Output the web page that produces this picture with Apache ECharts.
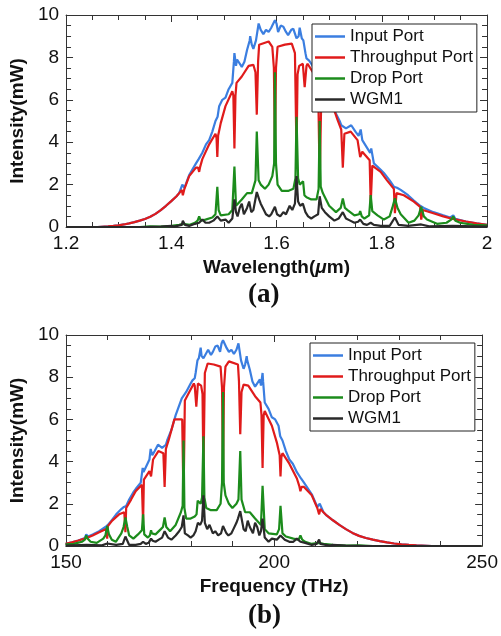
<!DOCTYPE html>
<html>
<head>
<meta charset="utf-8">
<script src="https://cdn.jsdelivr.net/npm/echarts@6/dist/echarts.min.js"></script>
<style>
  html, body { margin: 0; padding: 0; background: #fff; }
  #chart { width: 501px; height: 636px; }
</style>
</head>
<body>
<div id="chart"></div>
<script>
(function () {
    'use strict';

    // wavelength (um), intensity (mW)
    var inputPort = [
        [1.200,0],[1.260,0],[1.280,0.03],[1.290,0.05],[1.300,0.08],[1.310,0.12],[1.320,0.17],[1.330,0.23],
        [1.340,0.3],[1.350,0.38],[1.360,0.48],[1.370,0.62],[1.380,0.8],[1.390,1.0],[1.400,1.22],[1.410,1.45],
        [1.415,1.6],[1.421,2.0],[1.425,1.85],[1.434,2.45],[1.447,3.0],[1.452,3.2],[1.459,3.5],
        [1.466,3.9],[1.472,4.1],[1.478,4.5],[1.484,5.0],[1.488,5.2],[1.491,5.7],[1.497,6.0],[1.503,6.1],
        [1.509,6.5],[1.516,6.8],[1.519,7.8],[1.520,8.2],[1.523,7.6],[1.525,7.9],[1.534,7.55],[1.539,7.8],
        [1.544,8.35],[1.549,8.8],[1.550,9.0],[1.553,8.6],[1.556,8.4],[1.561,8.8],[1.566,9.6],[1.570,9.3],
        [1.575,9.1],[1.580,9.3],[1.585,9.2],[1.590,9.4],[1.592,9.5],[1.597,9.75],[1.600,9.6],[1.603,9.2],
        [1.608,9.5],[1.613,9.45],[1.618,9.2],[1.622,9.05],[1.628,9.3],[1.632,9.35],[1.638,8.9],[1.642,9.0],
        [1.644,9.4],[1.648,8.9],[1.651,8.8],[1.655,8.2],[1.657,7.95],[1.662,7.85],[1.666,7.7],[1.676,7.3],
        [1.686,7.0],[1.700,6.2],[1.710,5.5],[1.720,5.0],[1.723,4.8],[1.732,4.65],[1.742,4.8],[1.750,4.5],
        [1.756,4.3],[1.760,4.6],[1.763,4.1],[1.773,3.7],[1.778,3.5],[1.780,3.7],[1.785,3.0],[1.798,2.7],
        [1.804,2.55],[1.815,2.2],[1.823,1.9],[1.829,1.85],[1.836,1.75],[1.850,1.5],[1.861,1.25],[1.873,1.0],
        [1.880,0.9],[1.898,0.7],[1.917,0.55],[1.930,0.45],[1.936,0.55],[1.940,0.38],[1.960,0.26],[1.980,0.17],
        [2.000,0.1]
    ];

    var throughputPort = [
        [1.200,0],[1.260,0],[1.280,0.03],[1.290,0.05],[1.300,0.08],[1.310,0.12],[1.320,0.17],[1.330,0.23],
        [1.340,0.3],[1.350,0.38],[1.360,0.48],[1.370,0.62],[1.380,0.8],[1.390,1.0],[1.400,1.22],[1.410,1.45],
        [1.415,1.6],[1.420,1.75],[1.422,1.5],[1.425,1.8],[1.434,2.4],[1.447,2.8],[1.451,2.8],
        [1.453,2.6],[1.455,2.85],[1.459,3.2],[1.472,3.9],[1.484,4.4],[1.486,4.2],[1.4875,3.3],[1.489,4.3],
        [1.494,4.9],[1.503,5.7],[1.516,6.4],[1.518,6.2],[1.520,3.7],[1.522,6.2],[1.524,6.8],[1.534,7.1],
        [1.547,7.6],[1.556,7.65],[1.560,7.3],[1.5625,5.3],[1.565,7.8],[1.567,8.6],[1.585,8.75],[1.592,8.5],
        [1.595,7.5],[1.597,3.5],[1.599,7.5],[1.602,8.5],[1.616,8.6],[1.629,8.65],[1.635,8.2],[1.638,3.5],
        [1.640,7.2],[1.643,7.6],[1.650,7.7],[1.6535,6.6],[1.657,7.6],[1.659,7.7],[1.669,7.3],[1.679,6.9],
        [1.682,2.1],[1.685,6.0],[1.703,6.0],[1.716,5.05],[1.723,4.6],[1.726,2.8],[1.729,4.4],[1.741,4.5],
        [1.754,4.1],[1.759,3.3],[1.763,3.55],[1.777,3.15],[1.779,1.1],[1.782,2.9],[1.798,2.6],[1.810,2.2],
        [1.823,1.8],[1.825,0.65],[1.828,1.6],[1.842,1.5],[1.861,1.2],[1.873,0.95],[1.875,0.35],[1.878,0.8],
        [1.898,0.65],[1.917,0.5],[1.935,0.38],[1.936,0.3],[1.938,0.37],[1.960,0.26],[1.980,0.17],[2.000,0.1]
    ];

    var dropPort = [
        [1.200,0],[1.340,0],[1.360,0.03],[1.380,0.02],[1.400,0.05],[1.415,0.1],[1.422,0.15],[1.435,0.1],
        [1.445,0.2],[1.450,0.3],[1.453,0.5],[1.456,0.3],[1.465,0.35],[1.478,0.45],[1.484,0.6],[1.4875,1.9],
        [1.490,0.8],[1.494,0.55],[1.509,0.6],[1.516,0.8],[1.520,2.85],[1.523,1.0],[1.534,1.3],[1.544,1.6],
        [1.553,1.6],[1.560,2.2],[1.5625,4.5],[1.566,2.2],[1.570,2.0],[1.578,1.8],[1.585,2.0],[1.592,2.4],
        [1.5955,3.0],[1.597,7.3],[1.599,3.0],[1.602,2.0],[1.610,1.7],[1.622,1.7],[1.632,1.8],[1.636,2.3],
        [1.638,5.2],[1.641,2.3],[1.644,2.0],[1.6505,2.15],[1.653,1.5],[1.657,1.4],[1.666,1.3],[1.676,1.3],
        [1.680,1.8],[1.682,5.0],[1.684,1.9],[1.688,1.6],[1.700,1.0],[1.713,0.7],[1.722,0.9],[1.726,1.35],
        [1.730,0.9],[1.735,0.8],[1.748,0.55],[1.757,0.6],[1.759,0.75],[1.762,0.5],[1.767,0.4],[1.776,0.55],
        [1.779,1.5],[1.782,0.75],[1.792,0.55],[1.804,0.35],[1.815,0.5],[1.820,0.9],[1.825,1.35],[1.830,0.9],
        [1.836,0.6],[1.851,0.2],[1.862,0.3],[1.870,0.55],[1.875,0.95],[1.880,0.5],[1.886,0.35],[1.905,0.15],
        [1.923,0.2],[1.932,0.35],[1.936,0.5],[1.940,0.3],[1.949,0.2],[1.974,0.1],[2.000,0.08]
    ];

    var wgm1 = [
        [1.200,0],[1.350,0],[1.380,0.02],[1.400,0.05],[1.405,0.02],[1.420,0.1],[1.422,0.3],[1.426,0.1],
        [1.434,0.05],[1.445,0.15],[1.453,0.2],[1.459,0.35],[1.465,0.2],[1.472,0.2],[1.480,0.3],[1.4875,0.5],
        [1.494,0.3],[1.503,0.35],[1.509,0.2],[1.516,0.4],[1.520,1.3],[1.523,0.7],[1.526,0.5],[1.530,0.9],
        [1.534,1.1],[1.538,0.6],[1.544,0.9],[1.548,1.2],[1.552,0.7],[1.556,0.8],[1.5625,1.65],[1.567,1.3],
        [1.570,1.1],[1.576,0.8],[1.580,0.6],[1.586,0.5],[1.590,0.6],[1.597,0.95],[1.601,0.6],[1.607,0.5],
        [1.613,0.7],[1.618,0.6],[1.625,1.0],[1.630,0.8],[1.635,1.1],[1.638,2.4],[1.641,1.2],[1.645,1.0],
        [1.650,1.1],[1.655,0.7],[1.660,0.5],[1.666,0.4],[1.672,0.5],[1.679,0.6],[1.682,1.45],[1.686,0.9],
        [1.692,0.7],[1.700,0.5],[1.710,0.3],[1.718,0.4],[1.726,0.7],[1.732,0.4],[1.740,0.3],[1.748,0.2],
        [1.755,0.25],[1.759,0.35],[1.765,0.15],[1.772,0.1],[1.779,0.2],[1.785,0.1],[1.798,0.05],[1.815,0.05],
        [1.825,0.45],[1.832,0.1],[1.850,0.05],[1.875,0.12],[1.890,0.03],[1.935,0.05],[2.000,0.02]
    ];

    var seriesNames = ['Input Port', 'Throughput Port', 'Drop Port', 'WGM1'];
    var seriesColors = ['#3b7ee0', '#e01b1b', '#1c8c1c', '#2a2a2a'];
    var seriesData = [inputPort, throughputPort, dropPort, wgm1];

    // panel (b) is the same spectrum against frequency, f = c / lambda
    var C_UM_THZ = 299.792458;
    function toFreq(arr) {
        return arr.map(function (p) { return [C_UM_THZ / p[0], p[1]]; });
    }

    var FONT = 'Liberation Sans';
    var AXIS_COLOR = '#333';

    function frameAxis(gridIndex, pos, min, max, interval, minorSplit, showLabel, extra) {
        var ax = {
            type: 'value',
            gridIndex: gridIndex,
            position: pos,
            min: min,
            max: max,
            interval: interval,
            axisLine: { show: true, onZero: false, lineStyle: { color: AXIS_COLOR, width: 1 } },
            axisTick: { show: true, inside: true, length: 7, lineStyle: { color: AXIS_COLOR } },
            minorTick: { show: true, splitNumber: minorSplit, length: 5, lineStyle: { color: AXIS_COLOR } },
            splitLine: { show: false },
            axisLabel: {
                show: showLabel,
                color: '#111',
                fontFamily: FONT,
                fontSize: 19,
                margin: 7
            }
        };
        return Object.assign(ax, extra || {});
    }

    var xName = {
        nameLocation: 'middle',
        nameGap: 31,
        nameTextStyle: { fontFamily: FONT, fontSize: 19, fontWeight: 'bold', color: '#111' }
    };
    var yName = {
        name: 'Intensity(mW)',
        nameLocation: 'middle',
        nameGap: 27,
        nameTextStyle: { fontFamily: FONT, fontSize: 19, fontWeight: 'bold', color: '#111' }
    };

    var xAxes = [
        frameAxis(0, 'bottom', 1.2, 2, 0.2, 4, true, Object.assign({
            name: 'Wavelength({i|μ}m)',
            axisLabel: {
                color: '#111', fontFamily: FONT, fontSize: 19, margin: 7,
                formatter: function (v) { return Math.abs(v - 2) < 1e-9 ? '2' : v.toFixed(1); }
            }
        }, xName, {
            nameTextStyle: {
                fontFamily: FONT, fontSize: 19, fontWeight: 'bold', color: '#111',
                rich: { i: { fontFamily: FONT, fontSize: 19, fontStyle: 'italic', color: '#111' } }
            }
        })),
        frameAxis(0, 'top', 1.2, 2, 0.2, 4, false),
        frameAxis(1, 'bottom', 150, 250, 50, 5, true, Object.assign({ name: 'Frequency (THz)' }, xName)),
        frameAxis(1, 'top', 150, 250, 50, 5, false)
    ];
    var yAxes = [
        frameAxis(0, 'left', 0, 10, 2, 4, true, yName),
        frameAxis(0, 'right', 0, 10, 2, 4, false),
        frameAxis(1, 'left', 0, 10, 2, 4, true, yName),
        frameAxis(1, 'right', 0, 10, 2, 4, false)
    ];

    var series = [];
    [0, 1].forEach(function (g) {
        seriesNames.forEach(function (name, i) {
            series.push({
                type: 'line',
                name: name,
                xAxisIndex: g === 0 ? 0 : 2,
                yAxisIndex: g === 0 ? 0 : 2,
                data: g === 0 ? seriesData[i] : toFreq(seriesData[i]),
                showSymbol: false,
                symbol: 'none',
                lineStyle: { color: seriesColors[i], width: 2.2 },
                itemStyle: { color: seriesColors[i] },
                z: 2 + i
            });
        });
    });

    function makeLegend(left, top) {
        return {
            left: left,
            top: top,
            orient: 'vertical',
            data: seriesNames,
            icon: 'rect',
            itemWidth: 30,
            itemHeight: 2.5,
            itemGap: 0,
            itemTextGap: 3,
            padding: [2, 4, 2, 3],
            backgroundColor: '#fff',
            borderColor: '#222',
            borderWidth: 1,
            borderRadius: 0,
            selectedMode: false,
            textStyle: { fontFamily: FONT, fontSize: 17, lineHeight: 21, color: '#111' },
            z: 10
        };
    }

    var chart = echarts.init(document.getElementById('chart'), null, { renderer: 'canvas' });

    chart.setOption({
        animation: false,
        backgroundColor: '#fff',
        grid: [
            { left: 62, top: 15, width: 425, height: 212 },
            { left: 59, top: 335, width: 426, height: 211 }
        ],
        xAxis: xAxes,
        yAxis: yAxes,
        legend: [makeLegend(312, 24), makeLegend(310, 343)],
        graphic: [
            { type: 'text', left: 248, top: 282, style: { text: '(a)', font: 'bold 27px "Liberation Serif"', fill: '#111' } },
            { type: 'text', left: 248, top: 603, style: { text: '(b)', font: 'bold 27px "Liberation Serif"', fill: '#111' } }
        ],
        series: series
    });

    window.addEventListener('resize', function () {
        chart.resize();
    });
})();
</script>
</body>
</html>
